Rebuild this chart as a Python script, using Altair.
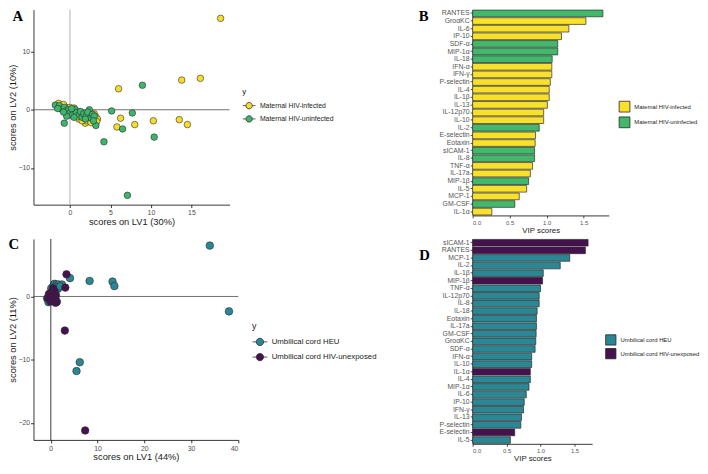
import altair as alt
import pandas as pd

# ---------------- Panel A: PLS-DA scores, maternal ----------------
A_LABELS = ["Maternal HIV-infected", "Maternal HIV-uninfected"]
A_COLORS = ["#F7DD2B", "#3DB66C"]
a_inf_x = [18.6, 13.8, 16.1, 6.0, 6.25, 5.8, 8.0, 10.3, 13.5, 14.5,
           -1.4, -1.0, -0.6, -0.3, 0.0, 0.2, 0.5, 0.6, 0.8, 1.0, 1.2, 1.4, 1.6, 1.8, 1.9,
           2.1, 2.3, 2.5, 2.7, 2.9, 3.0, 3.2, 3.4, 3.3, -0.8, 0.3, 1.1, 2.0, -0.2, 0.9,
           2.6, 1.5, -1.2, 0.1]
a_inf_y = [15.7, 5.1, 5.4, 3.6, -1.45, -2.95, -2.55, -1.9, -1.7, -2.55,
           1.1, 0.6, 0.5, 0.2, 0.4, -0.1, 0.3, -0.4, -0.8, -0.3, -1.1, -0.6, -1.0, -1.5, -2.3,
           -0.8, -1.3, -1.8, -1.0, -1.6, -0.7, -1.2, -1.6, -2.0, 0.9, -0.6, -1.6, -1.9, -0.3, -1.2,
           -2.2, -1.9, 0.3, -0.9]
a_un_x = [8.95, 5.15, 7.7, 6.5, 10.4, 4.2, 7.1, -0.7, 2.4, 3.2,
          -1.8, -1.3, -1.0, -0.7, -0.5, -0.2, 0.0, 0.3, 0.6, 0.8, 1.1, 1.3, 1.5, 1.7, 2.0,
          2.2, 2.6, 2.8, 3.0, -0.4, 0.5, 1.9, 2.9, -1.5, 0.2, -0.8]
a_un_y = [4.2, -0.2, -0.55, -3.3, -4.7, -5.5, -14.7, -2.3, 0.0, -2.7,
          0.8, 0.7, 0.1, 0.4, -0.2, 0.0, -0.5, -0.9, 0.1, -0.5, -0.9, -0.3, -1.3, -0.7, -1.0,
          -0.4, -1.4, -0.8, -1.1, -1.1, -1.3, -1.6, -1.9, 0.2, 0.2, -0.4]

# ---------------- Panel B: VIP scores, maternal ----------------
b_cytokines = ["RANTES", "GroαKC", "IL-6", "IP-10", "SDF-α", "MIP-1α", "IL-18", "IFN-α",
               "IFN-γ", "P-selectin", "IL-4", "IL-1β", "IL-13", "IL-12p70", "IL-10", "IL-2",
               "E-selectin", "Eotaxin", "sICAM-1", "IL-8", "TNF-α", "IL-17a", "MIP-1β",
               "IL-5", "MCP-1", "GM-CSF", "IL-1α"]
b_vip = [1.76, 1.53, 1.30, 1.20, 1.15, 1.15, 1.075, 1.07, 1.07, 1.05, 1.035, 1.035, 1.01,
         0.96, 0.96, 0.90, 0.85, 0.845, 0.837, 0.837, 0.81, 0.78, 0.757, 0.73, 0.63, 0.57, 0.26]
b_group = ["U", "I", "I", "I", "U", "U", "U", "I", "I", "I", "I", "I", "I", "I", "I", "U",
           "I", "I", "U", "U", "I", "I", "U", "I", "I", "U", "I"]

# ---------------- Panel C: PLS-DA scores, umbilical cord ----------------
C_LABELS = ["Umbilical cord HEU", "Umbilical cord HIV-unexposed"]
C_COLORS = ["#2A8793", "#46114F"]
c_heu_x = [34.0, 38.1, 8.3, 13.2, 13.6, 4.1, 6.2, 5.5,
           -0.5, -0.8, -0.3, 0.0, 0.2, 0.4, 0.6, 0.8, 1.2, 1.7, 2.4, 1.0, 0.7, 1.3, 0.3, 0.5,
           1.5, -0.2, 0.9, 2.0, 0.1]
c_heu_y = [8.05, -2.36, 2.46, 2.36, 1.64, 2.9, -10.4, -11.8,
           -0.9, -0.3, 0.2, 0.5, 1.0, 1.4, 1.8, 2.0, 1.9, 1.9, 1.9, 1.5, -0.1, -0.8, 0.8, 0.3,
           1.2, -0.4, 0.6, 1.6, 1.3]
c_une_x = [3.36, 3.1, 3.0, 7.35,
           -0.6, -0.3, 0.0, 0.2, 0.4, 0.6, 0.8, 1.0, 1.2, 0.3, -0.1, 0.5, 0.7, -0.4, 1.1, 0.9, 0.2]
c_une_y = [3.5, 1.4, -5.4, -21.2,
           -0.3, 0.0, 0.3, 0.7, 1.0, 0.5, -0.5, -1.0, -0.9, -0.7, -0.8, 1.3, 0.9, 0.4, 0.2, -0.2, -0.3]

# ---------------- Panel D: VIP scores, umbilical cord ----------------
d_cytokines = ["sICAM-1", "RANTES", "MCP-1", "IL-2", "IL-1β", "MIP-1β", "TNF-α", "IL-12p70",
               "IL-8", "IL-18", "Eotaxin", "IL-17a", "GM-CSF", "GroαKC", "SDF-α", "IFN-α",
               "IL-10", "IL-1α", "IL-4", "MIP-1α", "IL-6", "IP-10", "IFN-γ", "IL-13",
               "P-selectin", "E-selectin", "IL-5"]
d_vip = [1.70, 1.66, 1.43, 1.29, 1.04, 1.03, 1.00, 0.98, 0.98, 0.95, 0.94, 0.94, 0.935, 0.93,
         0.92, 0.87, 0.87, 0.85, 0.85, 0.83, 0.79, 0.76, 0.75, 0.72, 0.71, 0.62, 0.556]
d_group = ["N", "N", "H", "H", "H", "N", "H", "H", "H", "H", "H", "H", "H", "H", "H", "H",
           "H", "N", "H", "H", "H", "H", "H", "H", "H", "N", "H"]

FONT = "Liberation Sans"
LETTER_FONT = "Liberation Serif"
LEG_PATH = "M-1,0H-0.5M0.5,0H1M0.5,0A0.5,0.5,0,1,1,-0.5,0A0.5,0.5,0,1,1,0.5,0Z"


def letter_layer(letter, xy):
    return alt.Chart(pd.DataFrame({"t": [letter]})).mark_text(
        font=LETTER_FONT, fontSize=15, fontWeight="bold", color="black",
        baseline="top", align="center").encode(
        text="t:N", x=alt.value(xy[0]), y=alt.value(xy[1]))


def scatter_panel(xs1, ys1, xs2, ys2, labels, colors, xdom, ydom, xticks, yticks,
                  xtitle, ytitle, w, h, vline_color, letter, letter_xy, leg_xy, leg_font,
                  leg_size, pt_size):
    df = pd.DataFrame({
        "x": xs1 + xs2,
        "y": ys1 + ys2,
        "group": [labels[0]] * len(xs1) + [labels[1]] * len(xs2),
    })
    xs = alt.Scale(domain=xdom, nice=False, zero=False)
    ys = alt.Scale(domain=ydom, nice=False, zero=False)
    xax = alt.Axis(values=xticks, title=xtitle, labelFontSize=7, titleFontSize=9.5,
                   tickSize=3, labelPadding=1.5, titlePadding=1, domainWidth=0.8,
                   tickWidth=0.8)
    yax = alt.Axis(values=yticks, title=ytitle, labelFontSize=7, titleFontSize=9.5,
                   tickSize=3, labelPadding=1, titlePadding=0, domainWidth=0.8,
                   tickWidth=0.8)
    vrule = alt.Chart(pd.DataFrame({"x": [0]})).mark_rule(
        color=vline_color, strokeWidth=1.1).encode(x=alt.X("x:Q", scale=xs, axis=xax))
    hrule = alt.Chart(pd.DataFrame({"y": [0]})).mark_rule(
        color="#4a4a4a", strokeWidth=0.8).encode(y=alt.Y("y:Q", scale=ys, axis=yax))
    pts = alt.Chart(df).mark_point(
        shape="circle", filled=True, size=pt_size, opacity=1,
        stroke="#2a2a2a", strokeWidth=0.6).encode(
        x=alt.X("x:Q", scale=xs, axis=xax),
        y=alt.Y("y:Q", scale=ys, axis=yax),
        color=alt.Color("group:N", scale=alt.Scale(domain=labels, range=colors),
                        legend=alt.Legend(title="y", orient="none", legendX=leg_xy[0],
                                          legendY=leg_xy[1], titleFontSize=leg_font + 1,
                                          titleFontWeight="normal", titleColor="#222",
                                          titlePadding=3, labelFontSize=leg_font,
                                          labelColor="#222", symbolType=LEG_PATH,
                                          symbolSize=leg_size, symbolStrokeWidth=0.8,
                                          rowPadding=1.5, labelOffset=4, padding=0)),
    )
    return alt.layer(vrule, hrule, pts, letter_layer(letter, letter_xy)).properties(
        width=w, height=h)


def bar_panel(cats, vals, groups, gkeys, labels, colors, xmax, w, h, letter, letter_xy,
              leg_xy, leg_sym):
    df = pd.DataFrame({
        "cytokine": cats,
        "vip": vals,
        "group": [labels[gkeys.index(g)] for g in groups],
    })
    bars = alt.Chart(df).mark_bar(stroke="#2a2a2a", strokeWidth=0.7).encode(
        y=alt.Y("cytokine:N", sort=cats,
                scale=alt.Scale(paddingInner=0.12, paddingOuter=0.06),
                axis=alt.Axis(title=None, labelFontSize=7, tickSize=2.5, labelPadding=1,
                              domainWidth=0.8, tickWidth=0.7, labelColor="#555")),
        x=alt.X("vip:Q", scale=alt.Scale(domain=[0, xmax], nice=False),
                axis=alt.Axis(values=[0, 0.5, 1.0, 1.5], format=".1f", title="VIP scores",
                              labelFontSize=6, titleFontSize=8, tickSize=2.5,
                              labelPadding=1.5, titlePadding=1, domainWidth=0.8,
                              tickWidth=0.7, labelColor="#555")),
        color=alt.Color("group:N", scale=alt.Scale(domain=labels, range=colors),
                        legend=alt.Legend(title=None, orient="none", legendX=leg_xy[0],
                                          legendY=leg_xy[1], labelFontSize=6,
                                          labelColor="#222", symbolType="square",
                                          symbolSize=leg_sym, symbolStrokeColor="#222",
                                          symbolStrokeWidth=0.8, rowPadding=0,
                                          labelOffset=4, padding=0)),
    )
    return alt.layer(bars, letter_layer(letter, letter_xy)).properties(width=w, height=h)


panel_a = scatter_panel(a_inf_x, a_inf_y, a_un_x, a_un_y, A_LABELS, A_COLORS,
                        [-4.5, 19.7], [-16.3, 17.2], [0, 5, 10, 15], [-10, 0, 10],
                        "scores on LV1 (30%)", "scores on LV2 (10%)", 200, 199,
                        "#b8b8b8", "A", (-16, 0), (213, 80), 7, 169, 45)
panel_c = scatter_panel(c_heu_x, c_heu_y, c_une_x, c_une_y, C_LABELS, C_COLORS,
                        [-3.7, 40.1], [-22.7, 9.1], [0, 10, 20, 30, 40], [-20, -10, 0],
                        "scores on LV1 (44%)", "scores on LV2 (11%)", 209, 205,
                        "#4a4a4a", "C", (-20, -2), (223, 85), 8, 225, 60)
panel_b = bar_panel(b_cytokines, b_vip, b_group, ["I", "U"], A_LABELS,
                    ["#F9E02A", "#42B86B"], 1.84, 139, 210, "B", (-50, 0), (149, 93), 121)
panel_d = bar_panel(d_cytokines, d_vip, d_group, ["H", "N"], C_LABELS,
                    ["#2A8793", "#46114F"], 1.76, 122, 209, "D", (-49, 9), (135, 97), 110)

chart = alt.concat(
    panel_a, panel_b, panel_c, panel_d, columns=2,
    spacing={"row": 24, "column": 239}, bounds="flush"
).resolve_scale(
    color="independent"
).properties(
    padding={"left": 0, "top": -4, "right": 0, "bottom": 0}
).configure_view(
    strokeWidth=0
).configure_axis(
    grid=False, domainColor="black", tickColor="black", labelColor="#4d4d4d",
    titleColor="#1a1a1a", labelFont=FONT, titleFont=FONT, titleFontWeight="normal"
).configure_legend(
    labelFont=FONT, titleFont=FONT
)

chart.save("out.html", embed_options={"renderer": "svg", "actions": False})
